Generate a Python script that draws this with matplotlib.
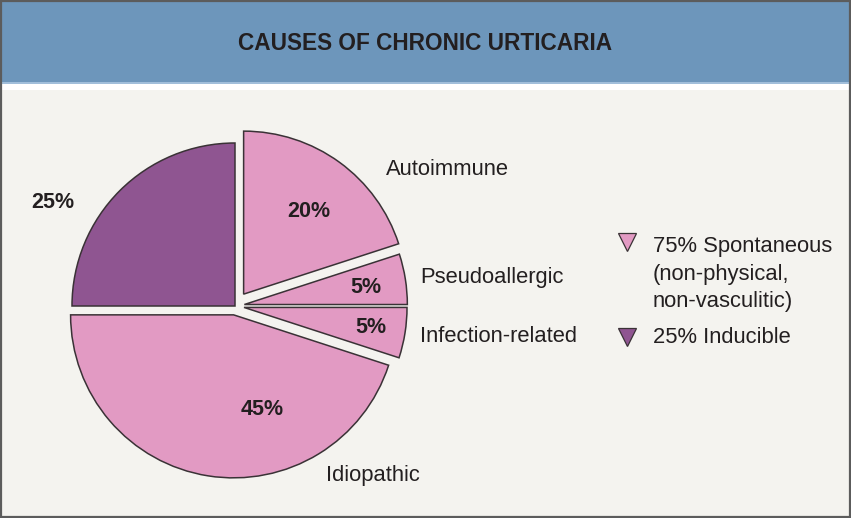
import matplotlib
matplotlib.use("Agg")
from matplotlib import pyplot as plt
from matplotlib.patches import Rectangle

plt.rcParams['font.family'] = ['Liberation Sans', 'DejaVu Sans']

############## Data ##############

causes = ['Autoimmune', 'Pseudoallergic', 'Infection-related', 'Idiopathic', 'Inducible']
shares = [20, 5, 5, 45, 25]
kinds = ['spontaneous', 'spontaneous', 'spontaneous', 'spontaneous', 'inducible']
legend_labels = ['75% Spontaneous\n(non-physical,\nnon-vasculitic)', '25% Inducible']
title = 'CAUSES OF CHRONIC URTICARIA'

############## Styles ##############

W, H = 851, 518
pink = '#e29ac3'
purple = '#8f5591'
edge = '#3a3236'
ink = '#231f20'
kind_color = {'spontaneous': pink, 'inducible': purple}
radius = 163
# pie() offsets slices in data units, so scale fractions by the radius
explode_frac = [0.09, 0.058, 0.056, 0.055, 0.0]
explode = [e * radius for e in explode_frac]

fig = plt.figure(figsize=(W / 100, H / 100), dpi=100)
fig.patch.set_facecolor('#f4f3ef')

# axes in pixel units (y measured upward)
ax = fig.add_axes([0, 0, 1, 1])
ax.set_facecolor('#f4f3ef')

# header band
ax.add_patch(Rectangle((0, H - 82), W, 82, facecolor='#6d96bb', edgecolor='none', zorder=0))
ax.add_patch(Rectangle((0, H - 90), W, 8, facecolor='white', edgecolor='none', zorder=0))
ax.plot([0, W], [H - 82.5, H - 82.5], color='#8fb1d3', lw=1.2, zorder=1)
ax.text(W / 2, H - 43.5, title, ha='center', va='center', fontsize=16.3,
        fontweight='bold', color=ink)

# pie
colors = [kind_color[k] for k in kinds]
ax.pie(shares, explode=explode, colors=colors, startangle=90, counterclock=False,
       center=(235, H - 306), radius=radius,
       wedgeprops=dict(edgecolor=edge, linewidth=1.1))

# percent labels inside / beside slices
pct_pos = [(309, 217), (366, 293), (371, 333), (262, 415), (53, 208)]
for val, (x, y) in zip(shares, pct_pos):
    ax.text(x, H - y, f'{val}%', ha='center', va='baseline', fontsize=15.5,
            fontweight='bold', color=ink)

# cause names
name_pos = {'Autoimmune': (386, 175), 'Pseudoallergic': (420, 283),
            'Infection-related': (420, 342), 'Idiopathic': (326, 481)}
for name, (x, y) in name_pos.items():
    ax.text(x, H - y, name, ha='left', va='baseline', fontsize=15.8, color=ink)

# legend
leg_marker_y = [242, 337]
leg_text_y = [[252, 280, 307], [343]]
for lab, kind, my, tys in zip(legend_labels, ['spontaneous', 'inducible'], leg_marker_y, leg_text_y):
    ax.plot([627], [H - my], marker='v', markersize=13, color=kind_color[kind],
            markeredgecolor=edge, markeredgewidth=0.9, linestyle='none')
    for line, ty in zip(lab.split('\n'), tys):
        ax.text(653, H - ty, line, ha='left', va='baseline', fontsize=15.8, color=ink)

ax.set_xlim(0, W)
ax.set_ylim(0, H)
ax.set_aspect('equal')
ax.axis('off')

# outer frame
ax.add_patch(Rectangle((0.8, 0.8), W - 1.6, H - 1.6, facecolor='none',
                       edgecolor='#5c5c5c', lw=1.6, zorder=5))

plt.savefig('out.png', dpi=100, facecolor=fig.get_facecolor())
